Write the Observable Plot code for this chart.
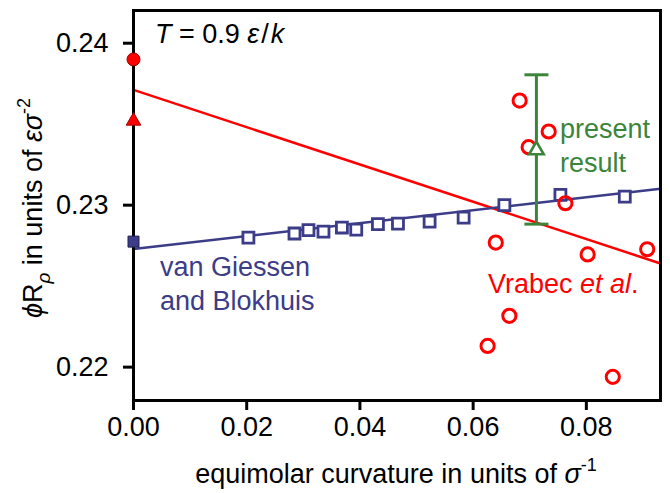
<!DOCTYPE html>
<html>
<head>
<meta charset="utf-8">
<script src="https://cdn.jsdelivr.net/npm/d3@7"></script>
<script src="https://cdn.jsdelivr.net/npm/@observablehq/plot@0.6"></script>
<style>
  html, body { margin: 0; padding: 0; background: white; }
  svg text { font-family: "Liberation Sans", Arial, sans-serif; }
</style>
</head>
<body>
<div id="chart"></div>
<script>
// ---- data ----
const xTicks = [0, 0.02, 0.04, 0.06, 0.08];
const yTicks = [0.22, 0.23, 0.24];

// Vrabec et al. (open red circles)
const vrabecX = [0.06822, 0.07335, 0.06981, 0.07630, 0.06400, 0.08023, 0.09075, 0.06640, 0.06256, 0.08467];
const vrabecY = [0.23646, 0.23455, 0.23358, 0.23012, 0.22769, 0.22696, 0.22728, 0.22317, 0.22131, 0.21940];

// van Giessen and Blokhuis (open navy squares)
const giessenX = [0.0203, 0.02844, 0.03091, 0.03356, 0.03682, 0.03935, 0.04318, 0.04672, 0.05231, 0.05832, 0.06552, 0.07542, 0.08679];
const giessenY = [0.2280, 0.22825, 0.22846, 0.22837, 0.22862, 0.22849, 0.22883, 0.22886, 0.22899, 0.22923, 0.23000, 0.23064, 0.23053];

// linear fits (end points)
const vrabecFitX = [0, 0.0931];
const vrabecFitY = [0.23712, 0.2264];
const giessenFitX = [0, 0.0931];
const giessenFitY = [0.22729, 0.23102];

// planar-limit values at zero curvature
const planarCircleY = [0.2390];
const planarTriangleY = [0.2352];
const planarSquareY = [0.22775];

// present result with error bar
const presentX = [0.07118];
const presentY = [0.2334];
const presentLow = [0.22883];
const presentHigh = [0.23805];

// ---- styles ----
const RED = "#ff0000";
const NAVY = "#3c3c88";
const GREEN = "#3b853b";

const vrabec = vrabecX.map((x, i) => ({x, y: vrabecY[i]}));
const giessen = giessenX.map((x, i) => ({x, y: giessenY[i]}));
const vrabecFit = vrabecFitX.map((x, i) => ({x, y: vrabecFitY[i]}));
const giessenFit = giessenFitX.map((x, i) => ({x, y: giessenFitY[i]}));
const present = presentX.map((x, i) => ({x, y: presentY[i], lo: presentLow[i], hi: presentHigh[i]}));

const capSymbol = {
  draw(context) { context.moveTo(-12, 0); context.lineTo(12, 0); }
};

const plot = Plot.plot({
  width: 670,
  height: 493,
  marginLeft: 133,
  marginRight: 10,
  marginTop: 10,
  marginBottom: 93,
  style: {fontFamily: "Liberation Sans, Arial, sans-serif", fontSize: "27px", background: "white", color: "black"},
  x: {domain: [0, 0.0931]},
  y: {domain: [0.21794, 0.24202]},
  marks: [
    Plot.line(vrabecFit, {x: "x", y: "y", stroke: RED, strokeWidth: 2.5}),
    Plot.line(giessenFit, {x: "x", y: "y", stroke: NAVY, strokeWidth: 2.5}),
    Plot.dot(giessen, {x: "x", y: "y", symbol: "square", r: 6.2, stroke: NAVY, strokeWidth: 2.8, fill: "white"}),
    Plot.dot(vrabec, {x: "x", y: "y", symbol: "circle", r: 6.6, stroke: RED, strokeWidth: 3, fill: "none"}),
    Plot.ruleX(present, {x: "x", y1: "lo", y2: "hi", stroke: GREEN, strokeWidth: 3}),
    Plot.dot(present, {x: "x", y: "lo", symbol: capSymbol, stroke: GREEN, strokeWidth: 3, fill: "none"}),
    Plot.dot(present, {x: "x", y: "hi", symbol: capSymbol, stroke: GREEN, strokeWidth: 3, fill: "none"}),
    Plot.dot(present, {x: "x", y: "y", symbol: "triangle", r: 5.4, stroke: GREEN, strokeWidth: 2.6, fill: "white"}),
    Plot.frame({stroke: "black", strokeWidth: 3}),
    Plot.axisX({ticks: xTicks, tickFormat: d3.format(".2f"), tickSize: 10, tickPadding: 6, strokeWidth: 3, label: null, fontSize: 27}),
    Plot.axisY({ticks: yTicks, tickFormat: d3.format(".2f"), tickSize: 10, tickPadding: 15, strokeWidth: 3, label: null, fontSize: 27}),
    Plot.dot(planarCircleY, {x: () => 0, y: d => d, symbol: "circle", r: 6.5, fill: RED, stroke: "#a00000", strokeWidth: 1}),
    Plot.dot(planarTriangleY, {x: () => 0, y: d => d, symbol: "triangle", r: 5.4, fill: RED, stroke: "#a00000", strokeWidth: 1}),
    Plot.dot(planarSquareY, {x: () => 0, y: d => d, symbol: "square", r: 6.2, fill: NAVY, stroke: "#202050", strokeWidth: 1})
  ]
});

document.getElementById("chart").appendChild(plot);

// ---- rich-text annotations ----
const svg = d3.select(plot);
function richText(x, y, parts, {fill = "black", anchor = "start", rotate = 0, size = 27} = {}) {
  const t = svg.append("text")
    .attr("transform", `translate(${x},${y}) rotate(${rotate})`)
    .attr("text-anchor", anchor)
    .attr("fill", fill)
    .attr("font-size", size)
    .attr("font-family", "Liberation Sans, Arial, sans-serif");
  for (const p of parts) {
    const s = t.append("tspan").text(p.t);
    if (p.i) s.attr("font-style", "italic");
    if (p.size) s.attr("font-size", p.size);
    if (p.dy) s.attr("dy", p.dy);
    if (p.dx) s.attr("dx", p.dx);
  }
  return t;
}

richText(155, 43, [
  {t: "T", i: true}, {t: " = 0.9 "}, {t: "ε", i: true}, {t: "/", dx: 2}, {t: "k", i: true, dx: 2}
]);

richText(160, 276, [{t: "van Giessen"}], {fill: NAVY});
richText(160, 310, [{t: "and Blokhuis"}], {fill: NAVY});
richText(488, 293, [{t: "Vrabec "}, {t: "et al", i: true}, {t: "."}], {fill: RED});
richText(560, 138, [{t: "present"}], {fill: GREEN});
richText(560, 172, [{t: "result"}], {fill: GREEN});

// axis titles
richText(396, 483, [
  {t: "equimolar curvature in units of "}, {t: "σ", i: true}, {t: "-1", size: 18, dy: -12}
], {anchor: "middle"});

richText(42, 208, [
  {t: "ϕ", i: true}, {t: "R"}, {t: "ρ", i: true, size: 19, dy: 8}, {t: " in units of ", dy: -8},
  {t: "ε", i: true}, {t: "σ", i: true}, {t: "-2", size: 18, dy: -12}
], {anchor: "middle", rotate: -90});
</script>
</body>
</html>
